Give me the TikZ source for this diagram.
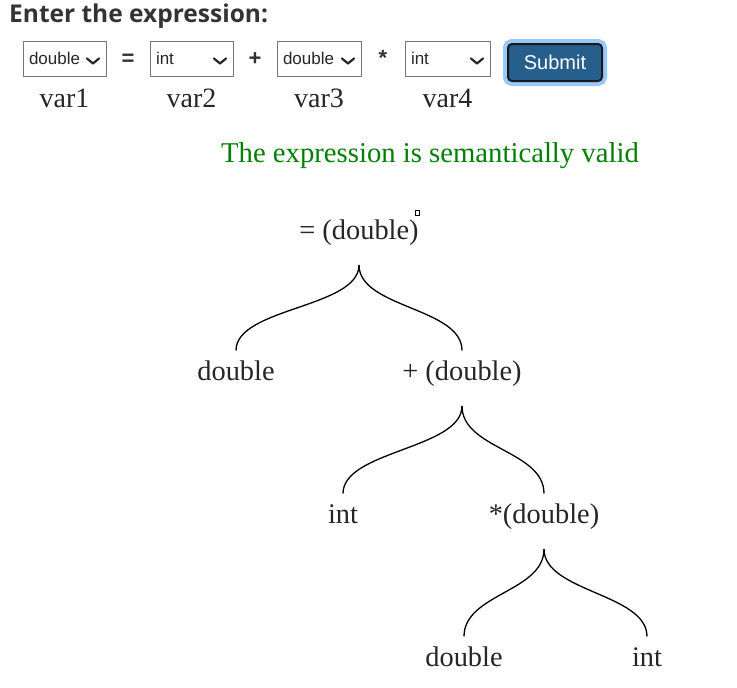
\documentclass[tikz,border=0pt]{standalone}
\usepackage{fontspec}
\setmainfont{Liberation Serif}
\setsansfont{Liberation Sans}
\newfontfamily\headfont{Open Sans}
\usepackage{tikz}
\usetikzlibrary{positioning,calc}
\definecolor{selectgray}{RGB}{118,118,118}
\definecolor{submitblue}{RGB}{38,94,140}
\definecolor{focusblue}{RGB}{153,200,255}
\definecolor{headgray}{RGB}{51,51,51}
\definecolor{validgreen}{RGB}{0,128,0}

\newcommand{\chevron}[1]{\draw[chev] ([xshift=-19pt]#1.east) -- ++(6,5) -- ++(6,-5);}
\newcommand{\branch}[2]{\draw[edge] ([yshift=-26pt]#1.base) .. controls +(0,43) and +(0,-43) .. ([yshift=29.5pt]#2.base);}

\begin{document}
\begin{tikzpicture}[
        x=1pt, y=-1pt,
        sel/.style={rectangle, draw=selectgray, line width=1pt, minimum width=83pt, minimum height=35pt, text width=71pt, inner xsep=6pt, align=left, outer sep=0pt, font=\sffamily\fontsize{17}{19}\selectfont, text=black!85},
        op/.style={font=\sffamily\bfseries\fontsize{22}{24}\selectfont, text=headgray, text height=16pt, text depth=2pt},
        submit/.style={rectangle, rounded corners=4pt, draw=black!90, line width=2pt, fill=submitblue, preaction={draw=focusblue, line width=10pt}, minimum width=94pt, minimum height=37pt, outer sep=0pt, text=white, font=\sffamily\fontsize{20}{22}\selectfont},
        varlbl/.style={anchor=base, font=\fontsize{28}{32}\selectfont, text=black!85},
        tnode/.style={anchor=base, font=\fontsize{28.4}{32}\selectfont, text=black!85},
        edge/.style={line width=1.3pt, black},
        chev/.style={line width=2.2pt, black!85, line cap=round, line join=round}
    ]
        \useasboundingbox (0,0) rectangle (737,688);

        % Heading
        \node[anchor=base west, inner sep=0pt, font=\headfont\bfseries\fontsize{24.5}{28}\selectfont, text=headgray] (title) at (9,23) {Enter the expression:};

        % Select boxes
        \node[sel] (v1) at (64.5,58.5) {double};
        \node[sel, right=44pt of v1] (v2) {int};
        \node[sel, right=44pt of v2, minimum width=84pt, text width=72pt] (v3) {double};
        \node[sel, right=44pt of v3, minimum width=85pt, text width=73pt] (v4) {int};
        \foreach \b in {v1,v2,v3,v4} \chevron{\b};

        % Operators
        \node[op] (opeq) at ($(v1.east)!0.5!(v2.west)$) {=};
        \node[op] (opplus) at ($(v2.east)!0.5!(v3.west)$) {+};
        \node[op] (opmul) at ($(v3.east)!0.5!(v4.west)$) {*};

        % Submit
        \node[submit, right=18pt of v4, yshift=-4pt] (sub) {Submit};

        % Variable labels
        \node[varlbl] (lab1) at ([yshift=-31pt]v1.south) {var1};
        \node[varlbl] (lab2) at ([yshift=-31pt]v2.south) {var2};
        \node[varlbl] (lab3) at ([yshift=-31pt]v3.south) {var3};
        \node[varlbl] (lab4) at ([yshift=-31pt]v4.south) {var4};

        % Result
        \node[anchor=base, font=\fontsize{28.7}{32}\selectfont, text=validgreen] (msg) at (430,162) {The expression is semantically valid};

        % Tree
        \node[tnode] (rootop) at (359,239) {= (double)};
        \node[draw, line width=0.8pt, fill=white, minimum width=4pt, minimum height=5pt, inner sep=0pt] (caret) at (417,212.5) {};
        \node[tnode] (lhs) at (236,380) {double};
        \node[tnode] (addop) at (462,380) {+ (double)};
        \node[tnode] (addint) at (343,523) {int};
        \node[tnode] (mulop) at (544,523) {*(double)};
        \node[tnode] (muldbl) at (464,666) {double};
        \node[tnode] (mulint) at (647,666) {int};

        % Branches
        \branch{rootop}{lhs}
        \branch{rootop}{addop}
        \branch{addop}{addint}
        \branch{addop}{mulop}
        \branch{mulop}{muldbl}
        \branch{mulop}{mulint}
    \end{tikzpicture}
\end{document}
